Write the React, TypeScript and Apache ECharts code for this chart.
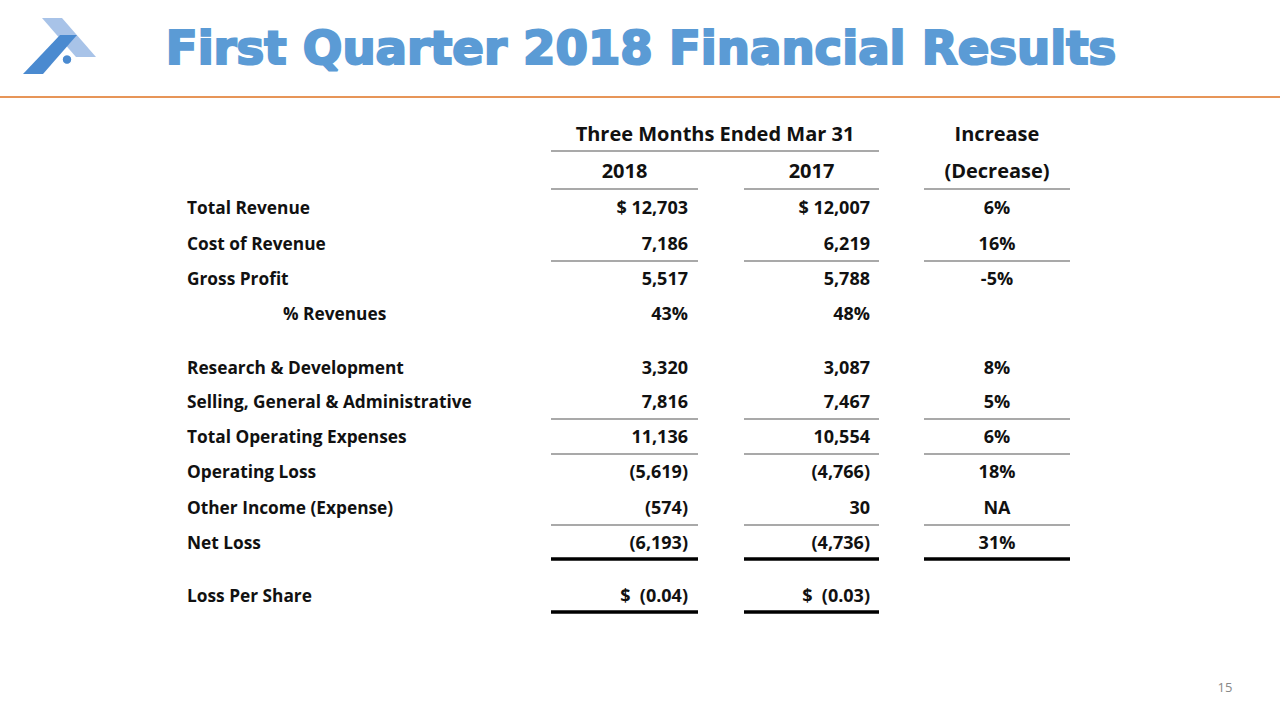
import React, { useEffect, useRef } from "react";
import * as echarts from "echarts";

const titleText = "First Quarter 2018 Financial Results";
const headerPeriod = "Three Months Ended Mar 31";
const headerYears = ["2018", "2017"];
const headerChange = ["Increase", "(Decrease)"];

const rowLabels = [
  "Total Revenue",
  "Cost of Revenue",
  "Gross Profit",
  "% Revenues",
  "Research & Development",
  "Selling, General & Administrative",
  "Total Operating Expenses",
  "Operating Loss",
  "Other Income (Expense)",
  "Net Loss",
  "Loss Per Share",
];
const rowKinds = ["usd", "num", "num", "pct", "num", "num", "num", "num", "num", "num", "eps"];
const values2018 = [12703, 7186, 5517, 43, 3320, 7816, 11136, -5619, -574, -6193, -0.04];
const values2017 = [12007, 6219, 5788, 48, 3087, 7467, 10554, -4766, 30, -4736, -0.03];
const changePct: (number | string | null)[] = [6, 16, -5, null, 8, 5, 6, 18, "NA", 31, null];
const pageNumber = "15";

// layout
const rowY = [207, 243, 278, 313, 367, 401, 436, 471, 507, 542, 595];
const thinRuleAfter = [1, 5, 6, 8]; // rule below these rows (all three columns)
const FONT = "'Open Sans', Lato, sans-serif";

function fmt(v: number, kind: string): string {
  if (kind === "pct") return `${v}%`;
  if (kind === "eps") {
    const s = Math.abs(v).toFixed(2);
    return v < 0 ? `$  (${s})` : `$  ${s}`;
  }
  const s = Math.abs(v).toLocaleString("en-US");
  const body = v < 0 ? `(${s})` : s;
  return kind === "usd" ? `$ ${body}` : body;
}

export default function App() {
  const ref = useRef<HTMLDivElement>(null);
  useEffect(() => {
    if (!ref.current) return;
    const chart = echarts.init(ref.current, undefined, { renderer: "svg" });
    const els: any[] = [];
    const col18 = { x1: 551, x2: 698, tx: 688 };
    const col17 = { x1: 744, x2: 879, tx: 870 };
    const colCh = { x1: 924, x2: 1070, tx: 997 };
    const txt = (text: string, x: number, y: number, align: string, extra: any = {}) =>
      els.push({
        type: "text",
        silent: true,
        style: {
          text,
          x,
          y,
          textAlign: align,
          textVerticalAlign: "middle",
          fontFamily: FONT,
          fontWeight: "bold",
          fontSize: 17,
          fill: "#111",
          ...extra,
        },
      });
    const rule = (x1: number, x2: number, y: number, w = 1.2, c = "#555") =>
      els.push({
        type: "line",
        silent: true,
        shape: { x1, y1: y, x2, y2: y },
        style: { stroke: c, lineWidth: w },
      });

    // logo
    els.push({
      type: "polygon",
      shape: { points: [[42, 18], [62, 18], [96, 57], [76, 57]] },
      style: { fill: "#A8C3E8" },
    });
    els.push({
      type: "polygon",
      shape: { points: [[23, 74], [43, 74], [77, 35], [60, 35]] },
      style: { fill: "#4A8AD0" },
    });
    els.push({
      type: "circle",
      shape: { cx: 67, cy: 59.5, r: 5 },
      style: { fill: "#4A8AD0", stroke: "#fff", lineWidth: 1.5 },
    });

    // title
    els.push({
      type: "text",
      silent: true,
      style: {
        text: titleText,
        x: 641,
        y: 48,
        textAlign: "center",
        textVerticalAlign: "middle",
        fontFamily: "'DejaVu Sans', sans-serif",
        fontWeight: "bold",
        fontSize: 46.6,
        fill: "#5B9BD5",
        stroke: "#5B9BD5",
        lineWidth: 2.2,
        shadowColor: "rgba(0,0,0,0.35)",
        shadowOffsetX: 2,
        shadowOffsetY: 2,
        shadowBlur: 2,
      },
    });
    // orange rule
    els.push({
      type: "rect",
      silent: true,
      shape: { x: 0, y: 96, width: 1280, height: 2 },
      style: { fill: "#E79558" },
    });

    // headers
    const H = { fontSize: 20 };
    txt(headerPeriod, 715, 133, "center", H);
    rule(col18.x1, col17.x2, 151);
    txt(headerYears[0], (col18.x1 + col18.x2) / 2, 170, "center", H);
    txt(headerYears[1], (col17.x1 + col17.x2) / 2, 170, "center", H);
    txt(headerChange[0], colCh.tx, 133, "center", H);
    txt(headerChange[1], colCh.tx, 170, "center", H);
    [col18, col17, colCh].forEach((c) => rule(c.x1, c.x2, 189));

    // rows
    const N = { fontSize: 18 };
    rowLabels.forEach((label, i) => {
      const y = rowY[i];
      const kind = rowKinds[i];
      txt(label, kind === "pct" ? 283 : 187, y, "left", { fontSize: 17.3 });
      txt(fmt(values2018[i], kind), col18.tx, y, "right", N);
      txt(fmt(values2017[i], kind), col17.tx, y, "right", N);
      const ch = changePct[i];
      if (ch !== null) txt(typeof ch === "number" ? `${ch}%` : ch, colCh.tx, y, "center", N);
      if (thinRuleAfter.includes(i)) {
        const ry = Math.round((rowY[i] + rowY[i + 1]) / 2);
        [col18, col17, colCh].forEach((c) => rule(c.x1, c.x2, ry));
      }
    });
    // thick rules
    [col18, col17, colCh].forEach((c) => rule(c.x1, c.x2, 559, 3.5, "#000"));
    [col18, col17].forEach((c) => rule(c.x1, c.x2, 612, 3.5, "#000"));

    // page number
    txt(pageNumber, 1225, 687, "center", { fontWeight: "normal", fontSize: 13, fill: "#888" });

    chart.setOption({ animation: false, graphic: { elements: els } });
    return () => chart.dispose();
  }, []);
  return (
    <div
      ref={ref}
      style={{ position: "fixed", left: 0, top: 0, width: 1280, height: 720, background: "#fff" }}
    />
  );
}
